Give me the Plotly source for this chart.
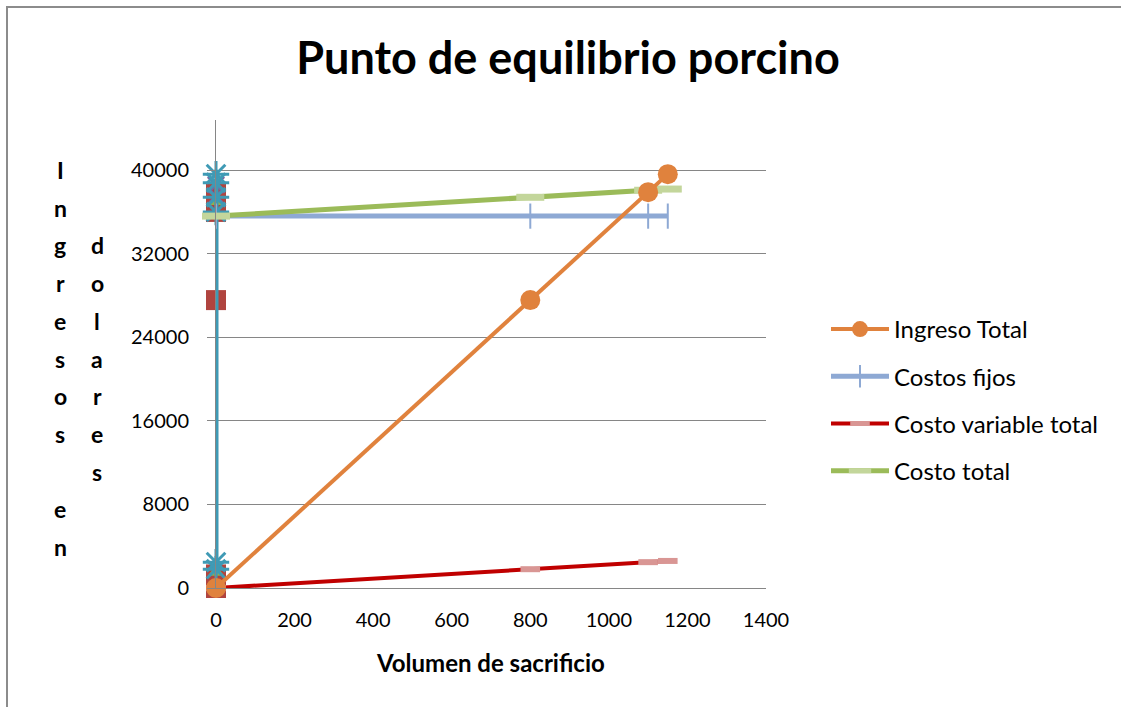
import plotly.graph_objects as go

# ---- data ----
volumen = [0, 800, 1100, 1150]
ingreso_total = [0, 27560, 37895, 39617]
costos_fijos = [35600, 35600, 35600, 35600]
costo_variable_total = [0, 1800, 2475, 2590]
costo_total = [35600, 37400, 38075, 38190]

# stray series plotted at x = 0 in the original workbook chart
stray_x = [0, 0, 0, 0, 0, 0]
stray_red = [0, 1300, 27560, 36000, 37400, 37895]
stray_teal = [39617, 38800, 37400, 36000, 2475, 1800]
stray_purple = [38600, 37500]
stray_green = [37000, 1500]

x_ticks = [0, 200, 400, 600, 800, 1000, 1200, 1400]
y_ticks = [0, 8000, 16000, 24000, 32000, 40000]

title_text = "Punto de equilibrio porcino"
x_title = "Volumen de sacrificio"
y_title_col1 = "Ingresos en"
y_title_col2 = "dolares"

FONT = "Lato"

fig = go.Figure()

# stray series (not in legend)
fig.add_trace(go.Scatter(x=stray_x, y=stray_red, mode="markers", showlegend=False, cliponaxis=False,
                         marker=dict(symbol="square", size=20, color="#B0443F")))
fig.add_trace(go.Scatter(x=stray_x[:2], y=stray_purple, mode="markers", showlegend=False, cliponaxis=False,
                         marker=dict(symbol="x-thin", size=16, line=dict(width=3, color="#7E62A0"))))
fig.add_trace(go.Scatter(x=stray_x[:2], y=stray_green, mode="markers", showlegend=False, cliponaxis=False,
                         marker=dict(symbol="triangle-up", size=14, color="#8FB04F")))
fig.add_trace(go.Scatter(x=stray_x, y=stray_teal, mode="lines+markers", showlegend=False, cliponaxis=False,
                         line=dict(color="#3F9AB5", width=5),
                         marker=dict(symbol="asterisk-open", size=22,
                                     line=dict(width=3, color="#4BACC6"))))

# main series
fig.add_trace(go.Scatter(x=volumen, y=costos_fijos, mode="lines+markers", name="Costos fijos",
                         legendrank=2, legendgroup="b", cliponaxis=False,
                         line=dict(color="#8EA9D4", width=5),
                         marker=dict(symbol="line-ns", size=18, line=dict(width=2, color="#8EA9D4"))))
fig.add_trace(go.Scatter(x=volumen, y=costo_total, mode="lines+markers", name="Costo total",
                         legendrank=4, legendgroup="d", cliponaxis=False,
                         line=dict(color="#9BBB59", width=5),
                         marker=dict(symbol="line-ew", size=20, line=dict(width=7, color="#C3D69B"))))
fig.add_trace(go.Scatter(x=volumen, y=costo_variable_total, mode="lines+markers",
                         name="Costo variable total", legendrank=3, legendgroup="c", cliponaxis=False,
                         line=dict(color="#C00000", width=4),
                         marker=dict(symbol="line-ew", size=14, line=dict(width=6, color="#D99694"))))
fig.add_trace(go.Scatter(x=volumen, y=ingreso_total, mode="lines+markers", name="Ingreso Total",
                         legendrank=1, legendgroup="a", cliponaxis=False,
                         line=dict(color="#E0823D", width=4),
                         marker=dict(symbol="circle", size=20, color="#E0823D")))

annotations = [
    dict(text=f"<b>{x_title}</b>", xref="paper", yref="paper", x=(490 - 216) / 550.0,
         y=(588 - 662) / 468.0,
         xanchor="center", yanchor="middle", showarrow=False,
         font=dict(family=FONT, size=24, color="#000000")),
]
row_h = 37.7 / 468.0
top_y = (588 - 170) / 468.0
for i, ch in enumerate(y_title_col1):
    if ch.strip():
        annotations.append(dict(text=f"<b>{ch}</b>", xref="paper", yref="paper",
                                x=(60 - 216) / 550.0, y=top_y - i * row_h,
                                xanchor="center", yanchor="middle", showarrow=False,
                                font=dict(family=FONT, size=23, color="#000000")))
for i, ch in enumerate(y_title_col2):
    annotations.append(dict(text=f"<b>{ch}</b>", xref="paper", yref="paper",
                            x=(97 - 216) / 550.0, y=top_y - (i + 2) * row_h,
                            xanchor="center", yanchor="middle", showarrow=False,
                            font=dict(family=FONT, size=23, color="#000000")))

fig.update_layout(
    width=1121, height=707,
    margin=dict(l=216, r=355, t=120, b=119),
    paper_bgcolor="white", plot_bgcolor="white",
    title=dict(text=f"<b>{title_text}</b>", x=568 / 1121, y=1 - 58 / 707,
               xanchor="center", yanchor="middle",
               font=dict(family=FONT, size=45, color="#000000")),
    font=dict(family=FONT, size=21, color="#000000"),
    legend=dict(x=(826 - 216) / 550.0, y=(588 - 400) / 468.0, xanchor="left", yanchor="middle",
                font=dict(family=FONT, size=24, color="#000000"),
                itemwidth=58, tracegroupgap=13, traceorder="grouped",
                bgcolor="rgba(0,0,0,0)"),
    annotations=annotations,
    shapes=[dict(type="rect", xref="paper", yref="paper",
                 x0=(7 - 216) / 550.0, x1=2.5, y0=-1.0, y1=(588 - 7) / 468.0,
                 line=dict(color="#8C8C8C", width=2), fillcolor="rgba(0,0,0,0)", layer="below")],
)

fig.update_xaxes(range=[0, 1400], tickvals=x_ticks, ticktext=[str(v) for v in x_ticks],
                 showgrid=False, zeroline=False, showline=True, linecolor="#868686", linewidth=1,
                 ticks="", ticklabelstandoff=14,
                 tickfont=dict(family=FONT, size=20, color="#000000"))
fig.update_yaxes(range=[0, 44800], tickvals=y_ticks, ticktext=[str(v) for v in y_ticks],
                 showgrid=True, gridcolor="#868686", gridwidth=1, zeroline=False,
                 showline=True, linecolor="#868686", linewidth=1,
                 ticks="outside", ticklen=8, tickcolor="#868686", ticklabelstandoff=14,
                 tickfont=dict(family=FONT, size=20, color="#000000"))

fig.write_html("out.html", config={"displayModeBar": False},
               post_script="document.body.style.margin='0';")
